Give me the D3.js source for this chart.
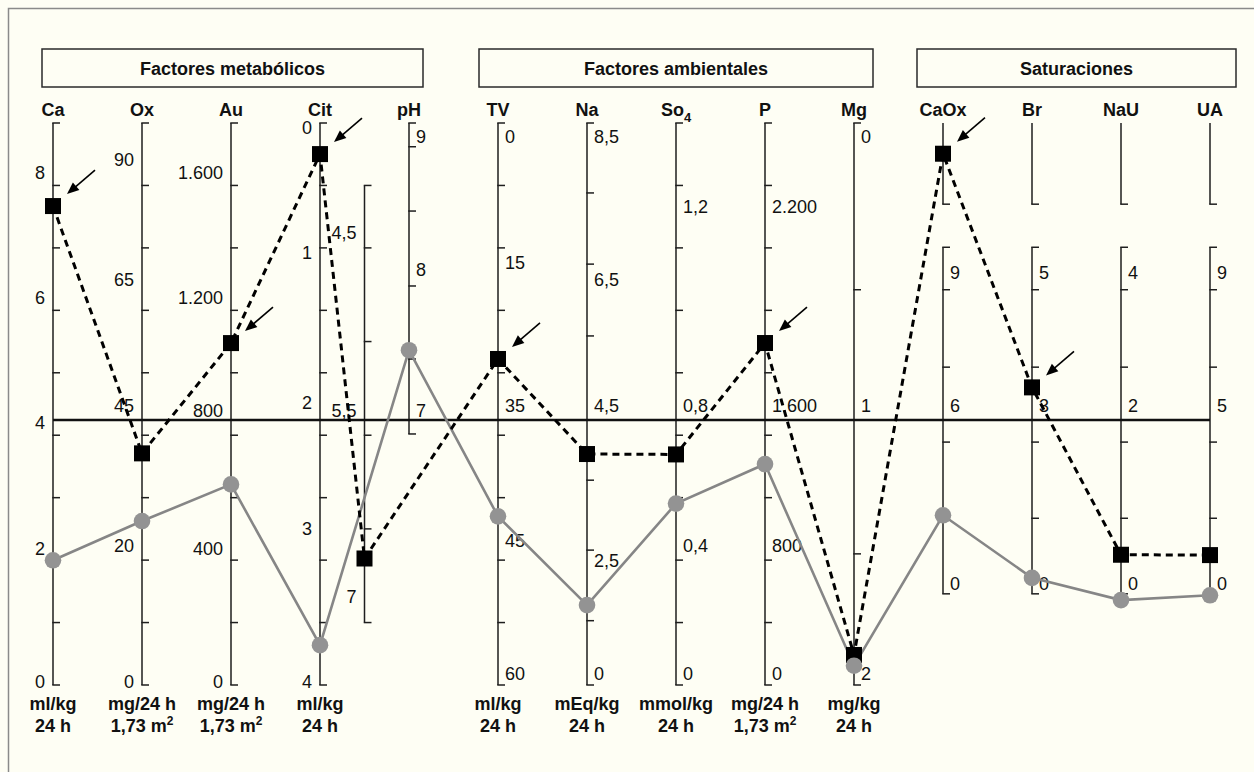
<!DOCTYPE html>
<html><head><meta charset="utf-8">
<script src="https://cdn.jsdelivr.net/npm/d3@7"></script>
<style>
html,body{margin:0;padding:0;background:#fefef4;}
svg{display:block;font-family:"Liberation Sans",Arial,Helvetica,sans-serif;}
</style>
</head><body>
<svg id="c" width="1254" height="772"></svg>
<script>
// ---------- DATA ----------
const columns = ["Ca","Ox","Au","Cit","pH","TV","Na","So4","P","Mg","CaOx","Br","NaU","UA"];
const headerNames = ["Ca","Ox","Au","Cit","pH","TV","Na","So_4","P","Mg","CaOx","Br","NaU","UA"];
const groupTitles = ["Factores metabólicos","Factores ambientales","Saturaciones"];
const groupFirst = ["Ca","TV","CaOx"];
const groupLast = ["pH","Mg","UA"];
const unitTop = ["ml/kg","mg/24 h","mg/24 h","ml/kg","","ml/kg","mEq/kg","mmol/kg","mg/24 h","mg/kg","","","",""];
const unitBottom = ["24 h","1,73 m^2","1,73 m^2","24 h","","24 h","24 h","24 h","1,73 m^2","24 h","","","",""];

// tick labels: text, value, grid level (0 = bottom of scale, 9 = top)
const caLabels=["0","2","4","6","8"], caValues=[0,2,4,6,8], caLevels=[0.05,2.19,4.2,6.2,8.2];
const oxLabels=["0","20","45","65","90"], oxValues=[0,20,45,65,90], oxLevels=[0.05,2.24,4.48,6.49,8.41];
const auLabels=["0","400","800","1.200","1.600"], auValues=[0,400,800,1200,1600], auLevels=[0.05,2.19,4.40,6.20,8.20];
const citLabels=["0","1","2","3","4"], citValues=[0,1,2,3,4], citLevels=[8.92,6.93,4.52,2.50,0.05];
const phAcidLabels=["4,5","5,5","7"], phAcidValues=[4.5,5.5,7], phAcidLevels=[7.24,4.39,1.41];
const phLabels=["7","8","9"], phValues=[7,8,9], phLevels=[4.39,6.65,8.78];
const tvLabels=["0","15","35","45","60"], tvValues=[0,15,35,45,60], tvLevels=[8.78,6.76,4.48,2.31,0.18];
const naLabels=["0","2,5","4,5","6,5","8,5"], naValues=[0,2.5,4.5,6.5,8.5], naLevels=[0.18,2.0,4.48,6.5,8.78];
const so4Labels=["0","0,4","0,8","1,2"], so4Values=[0,0.4,0.8,1.2], so4Levels=[0.18,2.23,4.48,7.66];
const pLabels=["0","800","1.600","2.200"], pValues=[0,800,1600,2200], pLevels=[0.18,2.23,4.48,7.66];
const mgLabels=["0","1","2"], mgValues=[0,1,2], mgLevels=[8.78,4.48,0.18];
const caoxLabels=["0","6","9"], caoxValues=[0,6,9];
const brLabels=["0","3","5"], brValues=[0,3,5];
const nauLabels=["0","2","4"], nauValues=[0,2,4];
const uaLabels=["0","5","9"], uaValues=[0,5,9];
const satLevels=[1.63,4.48,6.6];

// tick marks (grid levels)
const gridTicks=[0,1,2,3,4,5,6,7,8,9];
const phAcidTicks=[1,2.5,4,5.5,7,8];
const phTicks=[4.02,5.22,6.39,7.59,8.62,9];
const naTicks=[0,1.03,2.16,3.28,5.59,6.74,7.88,9];
const mgTicks=[0,2.1,4.24,6.33,9];
const satTicks=[1.46,2.67,3.89,5.09,6.33,7.01,7.70];
const satSegments=[[1.46,7.01],[7.70,9]];
const normalLevel=4.244;

// patient series
const seriesSquares=[7.47,36.4,1039,0.21,6.69,28.5,3.87,0.66,1788,1.93,11.7,3.27,0.32,0.79];
const seriesCircles=[1.82,24.3,585,3.76,7.43,43.2,1.51,0.52,1265,1.97,2.29,0.09,-0.19,-0.34];
const flaggedSquares=[1,0,1,1,0,1,0,0,1,0,1,1,0,0];

// ---------- LAYOUT ----------
const svg=d3.select("#c");
const FS=18;
svg.append("rect").attr("width",1254).attr("height",772).attr("fill","#fefef4");
svg.append("rect").attr("x",8.5).attr("y",8.5).attr("width",1300).attr("height",800)
  .attr("fill","none").attr("stroke","#8a8a8a").attr("stroke-width",1.5);

const x=d3.scalePoint().domain(columns).range([53,1210]);
const step=x.step();
const y=d3.scaleLinear().domain([0,9]).range([685,123]);

function mk(col,shift,side,labels,values,levels,ticks,segments){
  return {col,shift,side,labels,values,scale:d3.scaleLinear().domain(values).range(levels),ticks,segments};
}
const full=[[0,9]];
const axes=[
  mk("Ca",0,"left",caLabels,caValues,caLevels,gridTicks,full),
  mk("Ox",0,"left",oxLabels,oxValues,oxLevels,gridTicks,full),
  mk("Au",0,"left",auLabels,auValues,auLevels,gridTicks,full),
  mk("Cit",0,"left",citLabels,citValues,citLevels,gridTicks,full),
  mk("pH",-step/2,"left",phAcidLabels,phAcidValues,phAcidLevels,phAcidTicks,[[1,8]]),
  mk("pH",0,"right",phLabels,phValues,phLevels,phTicks,[[4.02,9]]),
  mk("TV",0,"right",tvLabels,tvValues,tvLevels,gridTicks,full),
  mk("Na",0,"right",naLabels,naValues,naLevels,naTicks,full),
  mk("So4",0,"right",so4Labels,so4Values,so4Levels,gridTicks,full),
  mk("P",0,"right",pLabels,pValues,pLevels,gridTicks,full),
  mk("Mg",0,"right",mgLabels,mgValues,mgLevels,mgTicks,full),
  mk("CaOx",0,"right",caoxLabels,caoxValues,satLevels,satTicks,satSegments),
  mk("Br",0,"right",brLabels,brValues,satLevels,satTicks,satSegments),
  mk("NaU",0,"right",nauLabels,nauValues,satLevels,satTicks,satSegments),
  mk("UA",0,"right",uaLabels,uaValues,satLevels,satTicks,satSegments)
];
const phAcid=axes[4], phAlk=axes[5];
function axisFor(col,v){
  if(col==="pH") return v<=7?phAcid:phAlk;
  return axes.find(a=>a.col===col);
}
function pos(col,v){const a=axisFor(col,v);return [x(col)+a.shift,y(a.scale(v))];}

// group boxes
const boxPadL=[11,19,26], boxPadR=[14,19,26];
groupTitles.forEach((t,i)=>{
  const x0=x(groupFirst[i])-boxPadL[i], x1=x(groupLast[i])+boxPadR[i];
  svg.append("rect").attr("x",x0).attr("y",49).attr("width",x1-x0).attr("height",38)
    .attr("fill","none").attr("stroke","#2a2a2a").attr("stroke-width",1.5);
  svg.append("text").attr("x",(x0+x1)/2).attr("y",75).attr("text-anchor","middle")
    .attr("font-size",FS).attr("font-weight","bold").attr("fill","#111").text(t);
});

// headers
columns.forEach((c,i)=>{
  const parts=headerNames[i].split("_");
  const t=svg.append("text").attr("x",x(c)).attr("y",116).attr("text-anchor","middle")
    .attr("font-size",FS).attr("font-weight","bold").attr("fill","#111");
  t.append("tspan").text(parts[0]);
  if(parts[1]) t.append("tspan").attr("font-size",13).attr("dy",6).text(parts[1]);
});

// units
function unitText(str,xx,yy){
  const parts=str.split("^");
  const t=svg.append("text").attr("x",xx).attr("y",yy).attr("text-anchor","middle")
    .attr("font-size",FS).attr("font-weight","bold").attr("fill","#111");
  t.append("tspan").text(parts[0]);
  if(parts[1]) t.append("tspan").attr("font-size",12).attr("dy",-7).text(parts[1]);
}
columns.forEach((c,i)=>{
  if(unitTop[i]) unitText(unitTop[i],x(c),709.5);
  if(unitBottom[i]) unitText(unitBottom[i],x(c),731.5);
});

// axes
const gA=svg.append("g").attr("stroke","#1e1e1e").attr("stroke-width",1.5).attr("fill","none");
axes.forEach(a=>{
  const ax=x(a.col)+a.shift;
  a.segments.forEach(s=>{
    gA.append("line").attr("x1",ax).attr("x2",ax).attr("y1",y(s[0])).attr("y2",y(s[1]));
  });
  a.ticks.forEach(t=>{
    gA.append("line").attr("x1",ax-0.75).attr("x2",ax+7).attr("y1",y(t)).attr("y2",y(t));
  });
  a.labels.forEach((lab,i)=>{
    const yy=y(a.scale(a.values[i]));
    svg.append("text").attr("x",a.side==="left"?ax-8:ax+7).attr("y",yy+6.4)
      .attr("text-anchor",a.side==="left"?"end":"start")
      .attr("font-size",FS).attr("fill","#111").text(lab);
  });
});

// normal reference line
svg.append("line").attr("x1",x(columns[0])).attr("x2",x(columns[columns.length-1]))
  .attr("y1",y(normalLevel)).attr("y2",y(normalLevel)).attr("stroke","#111").attr("stroke-width",2.6);

// series
const ptsSq=columns.map((c,i)=>pos(c,seriesSquares[i]));
const ptsCi=columns.map((c,i)=>pos(c,seriesCircles[i]));
const line=d3.line();
svg.append("path").attr("d",line(ptsCi)).attr("fill","none").attr("stroke","#868686").attr("stroke-width",2.6);
svg.append("path").attr("d",line(ptsSq)).attr("fill","none").attr("stroke","#000").attr("stroke-width",3).attr("stroke-dasharray","7,5");
svg.selectAll("rect.sq").data(ptsSq).enter().append("rect").attr("class","sq")
  .attr("x",d=>d[0]-8).attr("y",d=>d[1]-8).attr("width",16).attr("height",16).attr("fill","#000");
svg.selectAll("circle.ci").data(ptsCi).enter().append("circle").attr("class","ci")
  .attr("cx",d=>d[0]).attr("cy",d=>d[1]).attr("r",8.3).attr("fill","#939393");

// arrows
ptsSq.forEach((p,i)=>{
  if(!flaggedSquares[i]) return;
  const x0=p[0]+42,y0=p[1]-36,x1=p[0]+14,y1=p[1]-12;
  const dx=x1-x0,dy=y1-y0,L=Math.hypot(dx,dy),ux=dx/L,uy=dy/L;
  const hl=12,hw=5;
  const bx=x1-ux*hl,by=y1-uy*hl;
  svg.append("line").attr("x1",x0).attr("y1",y0).attr("x2",bx+ux*2).attr("y2",by+uy*2)
    .attr("stroke","#000").attr("stroke-width",1.6);
  svg.append("path").attr("d",`M${x1},${y1}L${bx-uy*hw},${by+ux*hw}L${bx+uy*hw},${by-ux*hw}Z`).attr("fill","#000");
});
</script>
</body></html>
